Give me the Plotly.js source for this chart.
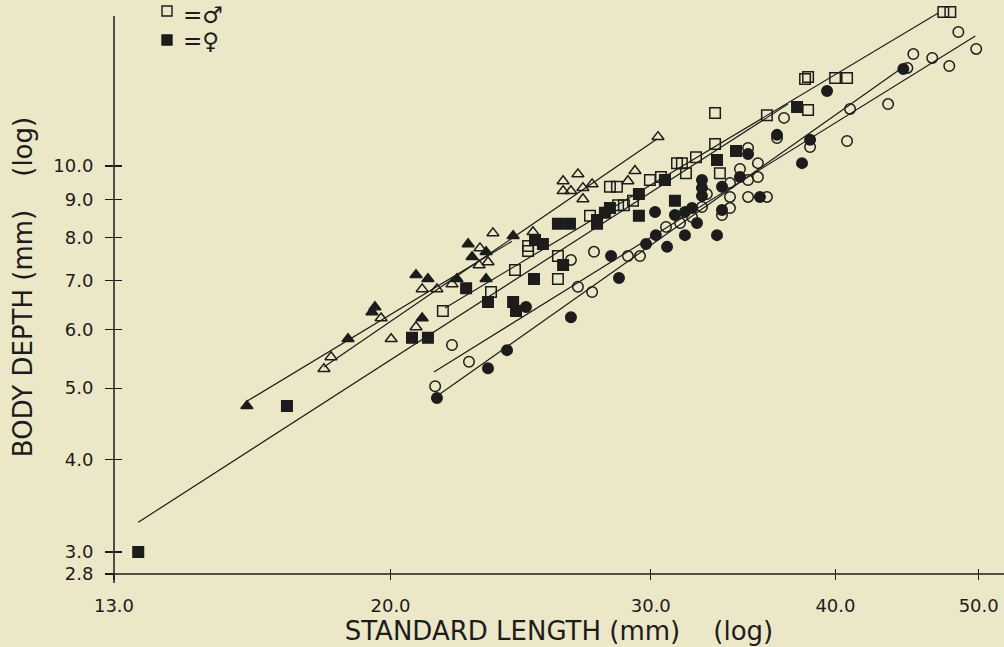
<!DOCTYPE html>
<html><head><meta charset="utf-8">
<script src="https://cdn.plot.ly/plotly-3.0.1.min.js"></script>
<style>html,body{margin:0;padding:0;background:#ebe7c7;}#chart{width:1004px;height:647px;}</style>
</head><body><div id="chart"></div>
<script>
// Tick values and labels
const xTickVals = [13, 20, 30, 40, 50];
const xTickText = ['13.0', '20.0', '30.0', '40.0', '50.0'];
const yTickVals = [2.8, 3, 4, 5, 6, 7, 8, 9, 10];
const yTickText = ['2.8', '3.0', '4.0', '5.0', '6.0', '7.0', '8.0', '9.0', '10.0'];

// Squares: open = male, filled = female (standard length mm, body depth mm)
const sqMaleX = [21.70, 23.39, 24.28, 24.78, 24.78, 25.96, 25.96, 27.29, 28.15, 28.46, 28.51, 28.77, 29.18, 29.96, 30.48, 31.25, 31.49, 31.69, 32.19, 33.16, 33.16, 33.41, 35.95, 38.15, 38.33, 39.98, 40.73, 38.33, 47.32, 47.84];
const sqMaleY = [6.36, 6.75, 7.23, 7.79, 7.67, 7.55, 7.03, 8.56, 9.37, 9.37, 8.85, 8.85, 8.97, 9.57, 9.66, 10.09, 10.09, 9.78, 10.28, 11.80, 10.71, 9.78, 11.72, 13.12, 13.20, 13.16, 13.16, 11.91, 16.17, 16.17];
const sqFemX = [13.50, 17.02, 20.68, 21.20, 22.50, 23.28, 24.21, 24.32, 25.01, 25.05, 25.36, 25.96, 26.45, 26.17, 27.59, 27.59, 27.93, 28.15, 29.45, 29.45, 30.67, 31.15, 33.26, 34.26, 37.68];
const sqFemY = [3.00, 4.73, 5.85, 5.85, 6.83, 6.54, 6.54, 6.36, 7.03, 7.94, 7.84, 8.35, 8.35, 7.34, 8.45, 8.35, 8.64, 8.77, 9.16, 8.56, 9.57, 8.97, 10.19, 10.48, 12.02];

// Triangles
const triMaleX = [18.03, 18.23, 19.71, 20.02, 20.81, 21.01, 21.50, 22.01, 22.99, 22.96, 23.28, 23.46, 24.97, 26.17, 26.78, 26.17, 26.49, 26.99, 27.38, 26.99, 28.95, 29.27, 30.34];
const triMaleY = [5.31, 5.51, 6.22, 5.83, 6.05, 6.81, 6.81, 6.92, 7.74, 7.34, 7.41, 8.11, 8.14, 9.54, 9.75, 9.25, 9.25, 9.34, 9.45, 9.02, 9.54, 9.85, 10.95];
const triFemX = [15.99, 18.72, 19.43, 19.52, 20.81, 21.20, 21.01, 22.18, 22.57, 22.71, 23.21, 23.21, 24.21];
const triFemY = [4.73, 5.83, 6.34, 6.44, 7.12, 7.03, 6.22, 7.03, 7.84, 7.53, 7.65, 7.03, 8.04];

// Circles
const cirMaleX = [21.44, 22.01, 22.60, 26.49, 26.78, 27.38, 27.46, 28.95, 29.50, 30.72, 31.40, 31.99, 32.49, 32.74, 33.52, 33.94, 33.94, 33.94, 34.47, 34.91, 34.91, 34.91, 35.45, 35.45, 35.95, 36.52, 36.92, 38.45, 40.73, 40.92, 43.42, 44.74, 45.16, 46.51, 47.76, 48.44, 49.81];
const cirMaleY = [5.03, 5.72, 5.43, 7.46, 6.86, 6.75, 7.65, 7.55, 7.55, 8.27, 8.37, 8.53, 8.80, 9.16, 8.58, 8.77, 9.08, 9.48, 9.91, 9.08, 9.57, 10.58, 9.66, 10.09, 9.08, 10.91, 11.62, 10.61, 10.81, 11.95, 12.13, 13.58, 14.18, 14.01, 13.66, 15.19, 14.41];
const cirFemX = [21.50, 23.28, 23.98, 24.70, 26.49, 28.20, 28.55, 29.78, 30.20, 30.24, 30.77, 31.15, 31.64, 31.64, 31.99, 32.24, 32.49, 32.49, 32.49, 33.26, 33.52, 33.52, 34.47, 34.91, 35.56, 36.52, 37.97, 38.45, 39.48, 44.46];
const cirFemY = [4.85, 5.32, 5.63, 6.44, 6.24, 7.55, 7.05, 7.84, 8.66, 8.06, 7.77, 8.58, 8.66, 8.06, 8.77, 8.37, 9.11, 9.34, 9.57, 8.06, 9.37, 8.72, 9.66, 10.38, 9.08, 11.02, 10.09, 10.85, 12.64, 13.53];

// Fitted regression lines (end points)
const fitSqMaleX = [21.77, 46.95],  fitSqMaleY = [6.42, 16.12];
const fitSqFemX = [13.50, 37.15],   fitSqFemY = [3.29, 12.13];
const fitTriMaleX = [18.03, 30.29], fitTriMaleY = [5.34, 10.88];
const fitTriFemX = [15.99, 24.17],  fitTriFemY = [4.80, 7.91];
const fitCirMaleX = [21.40, 49.74], fitCirMaleY = [5.26, 15.00];
const fitCirFemX = [21.54, 44.46],  fitCirFemY = [4.89, 13.62];

// Legend labels
const legendMale = '=\u2642';
const legendFemale = '=\u2640';

const INK = '#1c1c1c';
const BG = '#ebe7c7';
const FONT = '"DejaVu Sans", sans-serif';
const W = 1004, H = 647, ML = 114, MB = 73;
const PW = W - ML, PH = H - MB;

function fitLine(x, y) {
  return {x: x, y: y, mode: 'lines', line: {color: INK, width: 1.2}, showlegend: false, hoverinfo: 'skip'};
}
function pts(x, y, symbol, size, name) {
  return {x: x, y: y, mode: 'markers', name: name, showlegend: false,
    marker: {symbol: symbol, size: size, color: INK, line: {color: INK, width: 1.5}}};
}

const traces = [
  fitLine(fitSqMaleX, fitSqMaleY),
  fitLine(fitSqFemX, fitSqFemY),
  fitLine(fitTriMaleX, fitTriMaleY),
  fitLine(fitTriFemX, fitTriFemY),
  fitLine(fitCirMaleX, fitCirMaleY),
  fitLine(fitCirFemX, fitCirFemY),
  pts(sqMaleX, sqMaleY, 'square-open', 10.5, 'square male'),
  pts(sqFemX, sqFemY, 'square', 10.5, 'square female'),
  pts(triMaleX, triMaleY, 'triangle-up-open', 10.5, 'triangle male'),
  pts(triFemX, triFemY, 'triangle-up', 10.5, 'triangle female'),
  pts(cirMaleX, cirMaleY, 'circle-open', 10.5, 'circle male'),
  pts(cirFemX, cirFemY, 'circle', 10.5, 'circle female'),
  {x: [], y: [], xaxis: 'x2', yaxis: 'y2', mode: 'markers', showlegend: false, hoverinfo: 'skip'}
];

const xRange = [1.113943, 1.716103];
const yRange = [0.447158, 1.224932];
const tickFont = {family: FONT, size: 18, color: INK};
const titleFont = {family: FONT, size: 26, color: INK};

// pixel helpers for legend decoration (paper coordinates)
const px = v => (v - ML) / PW;
const py = v => 1 - v / PH;

const layout = {
  width: W, height: H,
  margin: {l: ML, r: 0, t: 0, b: MB},
  paper_bgcolor: BG, plot_bgcolor: BG,
  font: {family: FONT, color: INK},
  showlegend: false,
  xaxis: {type: 'log', range: xRange, tickvals: xTickVals, ticktext: xTickText,
    ticks: 'outside', ticklen: 5, tickwidth: 1.3, tickcolor: INK, showgrid: false, zeroline: false,
    showline: false, tickfont: tickFont, ticklabelstandoff: 10,
    title: {text: 'STANDARD LENGTH (mm)\u00a0\u00a0\u00a0\u00a0(log)', font: titleFont, standoff: 6}},
  yaxis: {type: 'log', range: yRange, tickvals: yTickVals, ticktext: yTickText,
    ticks: 'outside', ticklen: 8, tickwidth: 1.3, tickcolor: INK, showgrid: false, zeroline: false,
    showline: false, tickfont: tickFont, ticklabelstandoff: 8,
    title: {text: 'BODY DEPTH (mm)\u00a0\u00a0\u00a0\u00a0(log)', font: titleFont, standoff: 13}},
  xaxis2: {type: 'log', range: xRange, overlaying: 'x', anchor: 'y2', side: 'bottom', tickvals: xTickVals,
    ticks: 'inside', ticklen: 5, tickwidth: 1.3, tickcolor: INK, showticklabels: false, showgrid: false, zeroline: false, showline: false},
  yaxis2: {type: 'log', range: yRange, overlaying: 'y', anchor: 'x2', side: 'left', tickvals: yTickVals,
    ticks: 'inside', ticklen: 8, tickwidth: 1.3, tickcolor: INK, showticklabels: false, showgrid: false, zeroline: false, showline: false},
  shapes: [
    {type: 'line', xref: 'paper', yref: 'paper', x0: px(105), x1: 1, y0: 0, y1: 0, line: {color: INK, width: 1.5}},
    {type: 'line', xref: 'paper', yref: 'paper', x0: 0, x1: 0, y0: py(583), y1: py(16), line: {color: INK, width: 1.5}},
    // legend keys
    {type: 'rect', xref: 'paper', yref: 'paper', x0: px(162), x1: px(172), y0: py(16), y1: py(6), line: {color: INK, width: 1.4}, fillcolor: 'rgba(0,0,0,0)'},
    {type: 'rect', xref: 'paper', yref: 'paper', x0: px(162), x1: px(172), y0: py(45), y1: py(35), line: {color: INK, width: 1.4}, fillcolor: INK}
  ],
  annotations: [
    {text: legendMale, xref: 'paper', yref: 'paper', x: px(181), y: py(15), xanchor: 'left', yanchor: 'middle', showarrow: false, font: {family: FONT, size: 23, color: INK}},
    {text: legendFemale, xref: 'paper', yref: 'paper', x: px(181), y: py(41), xanchor: 'left', yanchor: 'middle', showarrow: false, font: {family: FONT, size: 23, color: INK}}
  ]
};

Plotly.newPlot('chart', traces, layout, {displayModeBar: false, staticPlot: true});
</script>
</body></html>
